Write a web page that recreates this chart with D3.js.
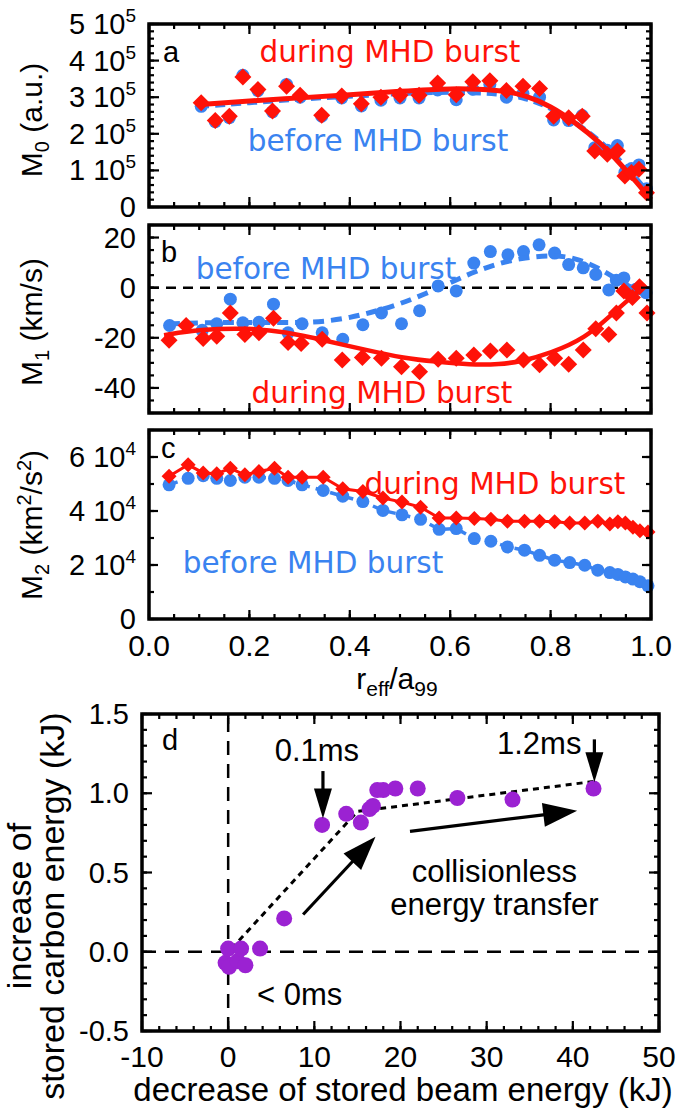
<!DOCTYPE html>
<html><head><meta charset="utf-8">
<script src="https://cdn.jsdelivr.net/npm/d3@7"></script>
<style>
html,body{margin:0;padding:0;background:#fff;}
svg{display:block;}
</style></head>
<body>
<svg id="c" width="685" height="1110"></svg>
<script>
// ---------------- DATA ----------------
// Panel a: M0 (units of 1e5 a.u.)
const xA = [0.104,0.132,0.160,0.187,0.217,0.246,0.274,0.301,0.344,0.384,0.423,0.462,0.500,0.538,0.575,0.612,0.645,0.679,0.712,0.745,0.778,0.806,0.836,0.863,0.888,0.913,0.933,0.948,0.961,0.976,0.991];
const m0During = [2.85,2.36,2.48,3.55,3.21,2.62,3.30,3.05,2.51,3.03,2.82,3.00,3.05,3.05,3.39,3.07,3.42,3.45,3.18,3.30,3.24,2.48,2.44,2.48,1.53,1.44,1.53,0.85,0.94,1.03,0.39];
const m0Before = [2.75,2.33,2.44,3.60,3.18,2.60,3.35,3.00,2.48,2.98,2.76,2.92,2.98,2.98,3.20,2.93,3.22,3.35,3.00,3.10,3.00,2.38,2.36,2.50,1.62,1.55,1.68,0.95,1.05,1.15,0.50];
const fitAx = [0.10,0.2,0.3,0.4,0.5,0.6,0.7,0.75,0.8,0.85,0.9,0.94,0.97,1.0];
const fitAduring = [2.80,2.90,2.98,3.07,3.16,3.25,3.20,3.05,2.76,2.30,1.75,1.16,0.70,0.20];
const fitAbefore = [2.75,2.85,2.95,3.03,3.10,3.15,3.10,2.98,2.72,2.30,1.80,1.25,0.80,0.30];

// Panel b: M1 (km/s)
const xBd = [0.040,0.074,0.108,0.135,0.162,0.191,0.219,0.248,0.277,0.303,0.345,0.385,0.425,0.463,0.503,0.539,0.576,0.612,0.647,0.680,0.713,0.746,0.778,0.808,0.836,0.865,0.890,0.916,0.931,0.946,0.963,0.977,0.992];
const m1During = [-21.0,-15.1,-20.3,-19.4,-10.1,-18.7,-18.0,-12.2,-21.9,-22.3,-20.6,-28.9,-27.9,-28.2,-31.5,-33.5,-28.6,-28.2,-26.9,-25.3,-24.9,-28.9,-30.8,-28.2,-30.6,-24.9,-16.4,-18.7,-10.1,-1.3,-3.9,0.4,-10.1];
const xBb = [0.041,0.106,0.135,0.162,0.187,0.219,0.248,0.277,0.305,0.345,0.386,0.426,0.463,0.503,0.539,0.576,0.612,0.647,0.680,0.715,0.746,0.777,0.808,0.836,0.865,0.890,0.916,0.931,0.946,0.970,0.990];
const m1Before = [-15.1,-17.0,-14.4,-4.6,-14.0,-13.8,-6.6,-18.0,-14.4,-18.0,-20.6,-14.8,-10.1,-14.4,-9.2,0.7,-1.3,9.8,14.4,13.1,14.4,17.1,13.8,9.2,7.9,5.3,-0.9,3.0,3.9,-0.6,-2.0];
const fitBxDuring = [0.03,0.1,0.2,0.27,0.35,0.43,0.51,0.57,0.64,0.7,0.74,0.8,0.87,0.92,0.96,0.99];
const fitBduring = [-19.0,-16.6,-16.1,-17.6,-21.0,-24.8,-28.2,-29.5,-30.8,-30.6,-29.5,-26.2,-20.0,-11.0,-3.9,1.0];
const fitBxBefore = [0.04,0.1,0.2,0.3,0.35,0.4,0.45,0.5,0.55,0.6,0.65,0.7,0.75,0.8,0.85,0.9,0.95,0.99];
const fitBbefore = [-14.5,-14.0,-13.8,-14.0,-13.5,-12.0,-9.5,-6.5,-2.5,2.0,6.5,10.0,12.0,13.0,12.0,7.5,1.0,-2.5];

// Panel c: M2 (units of 1e4 km^2/s^2)
const xC = [0.040,0.078,0.108,0.135,0.162,0.191,0.219,0.250,0.277,0.305,0.347,0.386,0.426,0.466,0.504,0.541,0.578,0.612,0.648,0.681,0.714,0.748,0.778,0.808,0.838,0.868,0.894,0.918,0.934,0.949,0.964,0.978,0.994];
const m2During = [5.29,5.71,5.41,5.38,5.58,5.34,5.46,5.58,5.25,5.25,5.25,4.82,4.72,4.48,4.33,4.14,3.74,3.74,3.72,3.69,3.62,3.62,3.62,3.60,3.56,3.56,3.62,3.52,3.60,3.56,3.40,3.27,3.22];
const m2Before = [4.97,5.21,5.31,5.21,5.13,5.25,5.25,5.21,5.13,4.97,4.76,4.55,4.35,4.02,3.86,3.69,3.32,3.35,2.98,2.88,2.67,2.55,2.36,2.18,2.09,1.99,1.81,1.72,1.65,1.56,1.48,1.38,1.23];

// Panel d: energies (kJ)
const beamDecrease = [-0.3,0.1,0.0,1.1,1.5,2.0,3.7,6.5,10.9,13.7,15.4,16.4,16.8,17.3,18.0,19.4,22.0,26.6,33.0,42.4];
const carbonIncrease = [-0.07,-0.095,0.02,-0.06,0.02,-0.085,0.02,0.21,0.80,0.87,0.815,0.90,0.92,1.02,1.02,1.03,1.03,0.97,0.96,1.03];
const trendX = [0.4,15.0,42.5];
const trendY = [0.02,0.885,1.075];

// tick label lists
const ticksA = [0,1,2,3,4,5];
const ticksB = [-40,-20,0,20];
const ticksC = [0,2,4,6];
const ticksX = [0,0.2,0.4,0.6,0.8,1.0];
const ticksDx = [-10,0,10,20,30,40,50];
const ticksDy = [-0.5,0.0,0.5,1.0,1.5];

// ---------------- DRAWING ----------------
const RED = "#ff1208", BLUE = "#3a83f0", PURPLE = "#9b22d2";
const svg = d3.select("#c");
const TICKF = "Liberation Sans, Arial, Helvetica, sans-serif";
const ANNF = "DejaVu Sans, Verdana, sans-serif";

const xL = 149, xR = 651;
const x = d3.scaleLinear([0,1],[xL,xR]);
const yA = d3.scaleLinear([0,5],[207,24]);
const yB = d3.scaleLinear([-50,25],[413,225]);
const yC = d3.scaleLinear([0,7],[619,430]);
const xD = d3.scaleLinear([-10,50],[142,659]);
const yD = d3.scaleLinear([-0.5,1.5],[1031,714]);

function ticksOn(xs, ys, xMaj, xMin, yMaj, yMin, majLen, minLen){
  const [x0,x1] = xs.range(), [y0,y1] = ys.range();
  const g = svg.append("g").attr("stroke","#000").attr("stroke-width",2.2);
  const addX = (vals,len)=>{
    vals.forEach(v=>{
      const px = xs(v);
      g.append("line").attr("x1",px).attr("x2",px).attr("y1",y0).attr("y2",y0-len);
      g.append("line").attr("x1",px).attr("x2",px).attr("y1",y1).attr("y2",y1+len);
    });
  };
  const addY = (vals,len)=>{
    vals.forEach(v=>{
      const py = ys(v);
      g.append("line").attr("x1",x0).attr("x2",x0+len).attr("y1",py).attr("y2",py);
      g.append("line").attr("x1",x1).attr("x2",x1-len).attr("y1",py).attr("y2",py);
    });
  };
  addX(xMin,minLen); addX(xMaj,majLen); addY(yMin,minLen); addY(yMaj,majLen);
  svg.append("rect").attr("x",x0).attr("y",y1).attr("width",x1-x0).attr("height",y0-y1)
     .attr("fill","none").attr("stroke","#000").attr("stroke-width",3.5);
}
function rng(a,b,s){const r=[];for(let v=a;v<=b+1e-9;v+=s)r.push(+v.toFixed(6));return r;}

function diamond(g, xs, ys, xv, yv, half, color){
  g.selectAll(null).data(xv.map((d,i)=>[d,yv[i]])).join("path")
    .attr("d", d3.symbol(d3.symbolSquare, (half*Math.SQRT2)**2)())
    .attr("transform", d=>`translate(${xs(d[0])},${ys(d[1])}) rotate(45)`)
    .attr("fill", color);
}
function dots(g, xs, ys, xv, yv, r, color){
  g.selectAll(null).data(xv.map((d,i)=>[d,yv[i]])).join("circle")
    .attr("cx", d=>xs(d[0])).attr("cy", d=>ys(d[1])).attr("r", r).attr("fill", color);
}
function curve(g, xs, ys, xv, yv, color, w, dash, c){
  const line = d3.line().x(d=>xs(d[0])).y(d=>ys(d[1])).curve(c||d3.curveLinear);
  g.append("path").attr("d", line(xv.map((d,i)=>[d,yv[i]])))
    .attr("fill","none").attr("stroke",color).attr("stroke-width",w)
    .attr("stroke-dasharray", dash||null).attr("stroke-linecap","butt");
}
function supLabel(xp, yp, main, sup){
  const t = svg.append("text").attr("x",xp).attr("y",yp).attr("text-anchor","end")
    .attr("font-family",TICKF).attr("font-size",29).attr("fill","#000");
  t.append("tspan").text(main);
  if(sup){ t.append("tspan").attr("dy",-12).attr("font-size",19).text(sup); }
}
function txt(xp, yp, s, opts={}){
  return svg.append("text").attr("x",xp).attr("y",yp).text(s)
    .attr("text-anchor",opts.anchor||"start").attr("font-family",opts.font||TICKF)
    .attr("font-size",opts.size||29).attr("fill",opts.color||"#000");
}

// ===== Panel a =====
{
  const g = svg.append("g");
  dots(g, x, yA, xA, m0Before, 6.5, BLUE);
  curve(g, x, yA, fitAx, fitAbefore, BLUE, 5, "10,6", d3.curveBasis);
  curve(g, x, yA, fitAx, fitAduring, RED, 5, null, d3.curveBasis);
  diamond(g, x, yA, xA, m0During, 8.5, RED);
  ticksOn(x, yA, ticksX, rng(0,1,0.05), ticksA, rng(0,5,0.2), 10, 5);
  ticksA.forEach(v=>{ if(v===0) supLabel(xL-13, yA(v)+10, "0"); else supLabel(xL-13, yA(v)+10, v+" 10", "5"); });
  txt(xL+14, 62, "a", {size:29});
  txt(390, 62, "during MHD burst", {font:ANNF, size:29.5, color:RED, anchor:"middle"});
  txt(378, 151, "before MHD burst", {font:ANNF, size:29.5, color:BLUE, anchor:"middle"});
  const yl = svg.append("text").attr("transform","translate(42,120) rotate(-90)").attr("text-anchor","middle")
     .attr("font-family",TICKF).attr("font-size",30);
  yl.append("tspan").text("M");
  yl.append("tspan").attr("dy",7).attr("font-size",20).text("0");
  yl.append("tspan").attr("dy",-7).text(" (a.u.)");
}
// ===== Panel b =====
{
  const g = svg.append("g");
  g.append("line").attr("x1",xL).attr("x2",xR).attr("y1",yB(0)).attr("y2",yB(0))
    .attr("stroke","#000").attr("stroke-width",2.5).attr("stroke-dasharray","10,7");
  dots(g, x, yB, xBb, m1Before, 6.5, BLUE);
  curve(g, x, yB, fitBxBefore, fitBbefore, BLUE, 5, "11,7", d3.curveBasis);
  curve(g, x, yB, fitBxDuring, fitBduring, RED, 4.5, null, d3.curveBasis);
  diamond(g, x, yB, xBd, m1During, 8.5, RED);
  ticksOn(x, yB, ticksX, rng(0,1,0.05), ticksB, rng(-50,25,5), 10, 5);
  ticksB.forEach(v=>supLabel(xL-13, yB(v)+10, String(v)));
  txt(xL+12, 262, "b", {size:29});
  txt(326, 279, "before MHD burst", {font:ANNF, size:29.5, color:BLUE, anchor:"middle"});
  txt(382, 403, "during MHD burst", {font:ANNF, size:29.5, color:RED, anchor:"middle"});
  const yl = svg.append("text").attr("transform","translate(42,322) rotate(-90)").attr("text-anchor","middle")
     .attr("font-family",TICKF).attr("font-size",30);
  yl.append("tspan").text("M");
  yl.append("tspan").attr("dy",7).attr("font-size",20).text("1");
  yl.append("tspan").attr("dy",-7).text("  (km/s)");
}
// ===== Panel c =====
{
  const g = svg.append("g");
  curve(g, x, yC, xC, m2Before, BLUE, 3.5, "9,6");
  dots(g, x, yC, xC, m2Before, 6.5, BLUE);
  curve(g, x, yC, xC, m2During, RED, 3);
  diamond(g, x, yC, xC, m2During, 7.5, RED);
  ticksOn(x, yC, ticksX, rng(0,1,0.05), ticksC, rng(0,7,1), 9, 5);
  ticksC.forEach(v=>{ if(v===0) supLabel(xL-13, yC(v)+10, "0"); else supLabel(xL-13, yC(v)+10, v+" 10", "4"); });
  ticksX.forEach(v=>txt(x(v), 656, v.toFixed(1), {anchor:"middle", size:30}));
  txt(xL+12, 458, "c", {size:29});
  txt(495, 494, "during MHD burst", {font:ANNF, size:29.5, color:RED, anchor:"middle"});
  txt(313, 573, "before MHD burst", {font:ANNF, size:29.5, color:BLUE, anchor:"middle"});
  const yl = svg.append("text").attr("transform","translate(42,525) rotate(-90)").attr("text-anchor","middle")
     .attr("font-family",TICKF).attr("font-size",30);
  yl.append("tspan").text("M");
  yl.append("tspan").attr("dy",7).attr("font-size",20).text("2");
  yl.append("tspan").attr("dy",-7).text(" (km");
  yl.append("tspan").attr("dy",-11).attr("font-size",20).text("2");
  yl.append("tspan").attr("dy",11).text("/s");
  yl.append("tspan").attr("dy",-11).attr("font-size",20).text("2");
  yl.append("tspan").attr("dy",11).text(")");
  const xl = svg.append("text").attr("x",397).attr("y",689).attr("text-anchor","middle")
     .attr("font-family",TICKF).attr("font-size",30);
  xl.append("tspan").text("r");
  xl.append("tspan").attr("dy",7).attr("font-size",21).text("eff");
  xl.append("tspan").attr("dy",-7).text("/a");
  xl.append("tspan").attr("dy",7).attr("font-size",21).text("99");
}
// ===== Panel d =====
{
  const g = svg.append("g");
  g.append("line").attr("x1",xD(-10)).attr("x2",xD(50)).attr("y1",yD(0)).attr("y2",yD(0))
    .attr("stroke","#000").attr("stroke-width",2.5).attr("stroke-dasharray","14,9");
  g.append("line").attr("x1",xD(0)).attr("x2",xD(0)).attr("y1",yD(-0.5)).attr("y2",yD(1.5))
    .attr("stroke","#000").attr("stroke-width",2.5).attr("stroke-dasharray","14,9");
  curve(g, xD, yD, trendX, trendY, "#000", 3, "6,5");
  dots(g, xD, yD, beamDecrease, carbonIncrease, 8, PURPLE);
  const arrows = [
    {x1:11.0,y1:1.14,x2:11.0,y2:0.84, hw:9, hl:30},
    {x1:42.5,y1:1.34,x2:42.5,y2:1.07, hw:9, hl:30},
    {x1:8.7,y1:0.235,x2:17.1,y2:0.725, hw:12, hl:34},
    {x1:21.1,y1:0.76,x2:40.5,y2:0.89, hw:12, hl:34}
  ];
  arrows.forEach(a=>{
    const X1=xD(a.x1),Y1=yD(a.y1),X2=xD(a.x2),Y2=yD(a.y2);
    const dx=X2-X1, dy=Y2-Y1, L=Math.hypot(dx,dy), ux=dx/L, uy=dy/L;
    const bx=X2-ux*a.hl, by=Y2-uy*a.hl;
    g.append("line").attr("x1",X1).attr("y1",Y1).attr("x2",bx+ux*2).attr("y2",by+uy*2)
      .attr("stroke","#000").attr("stroke-width",3.2);
    g.append("path").attr("d",`M${X2},${Y2}L${bx-uy*a.hw},${by+ux*a.hw}L${bx+uy*a.hw},${by-ux*a.hw}Z`).attr("fill","#000");
  });
  ticksOn(xD, yD, ticksDx, rng(-10,50,2), ticksDy, rng(-0.5,1.5,0.1), 10, 5);
  ticksDy.forEach(v=>supLabel(xD(-10)-13, yD(v)+10, v.toFixed(1)));
  ticksDx.forEach(v=>txt(xD(v), 1067, String(v), {anchor:"middle", size:30}));
  txt(xD(-10)+20, 750, "d", {size:29});
  txt(xD(10.3), 761, "0.1ms", {anchor:"middle", size:31});
  txt(xD(36.1), 754, "1.2ms", {anchor:"middle", size:31});
  txt(xD(8.3), 1005, "< 0ms", {anchor:"middle", size:31});
  txt(xD(30.9), 882, "collisionless", {anchor:"middle", size:31});
  txt(xD(30.9), 915, "energy transfer", {anchor:"middle", size:31});
  txt(403, 1101, "decrease of stored beam energy (kJ)", {anchor:"middle", size:33});
  svg.append("text").attr("transform","translate(31,906) rotate(-90)").attr("text-anchor","middle")
    .attr("font-family",TICKF).attr("font-size",34).text("increase of");
  svg.append("text").attr("transform","translate(64,906) rotate(-90)").attr("text-anchor","middle")
    .attr("font-family",TICKF).attr("font-size",34).text("stored carbon energy (kJ)");
}
</script>
</body></html>
